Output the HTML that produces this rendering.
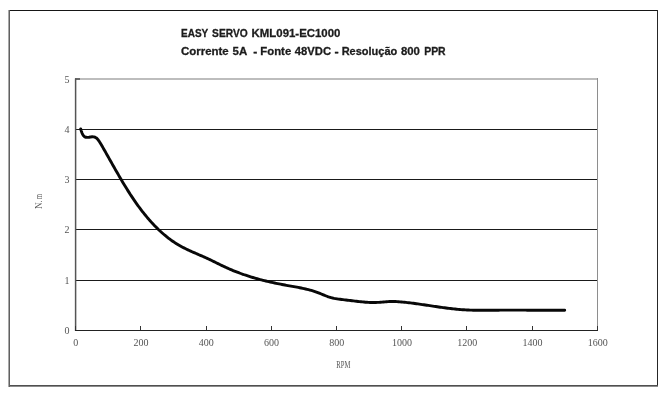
<!DOCTYPE html>
<html><head><meta charset="utf-8"><style>
html,body{margin:0;padding:0;background:#fff;width:667px;height:400px;overflow:hidden}
svg{display:block}
.t{font-family:"Liberation Sans",sans-serif;font-weight:bold;font-size:11.3px;fill:#1c1c1c;stroke:#1c1c1c;stroke-width:0.3px}
.l{font-family:"Liberation Serif",serif;font-size:10px;fill:#555}
</style></head><body>
<svg width="667" height="400" viewBox="0 0 667 400">
<rect x="8" y="10" width="650" height="1" fill="#161616"/>
<rect x="657" y="10" width="1" height="377" fill="#262626"/>
<rect x="8" y="385" width="650" height="1" fill="#505050"/>
<rect x="8" y="386" width="650" height="1" fill="#8c8c8c"/>
<rect x="8" y="10" width="1" height="377" fill="#a8a8a8"/>
<rect x="9" y="10" width="1" height="377" fill="#606060"/>
<text class="t" y="37.4"><tspan x="181.05" textLength="27.04" lengthAdjust="spacingAndGlyphs">EASY</tspan> <tspan x="212.08" textLength="35.59" lengthAdjust="spacingAndGlyphs">SERVO</tspan> <tspan x="251.64" textLength="88.74" lengthAdjust="spacingAndGlyphs">KML091-EC1000</tspan></text>
<text class="t" y="54.8"><tspan x="180.94" textLength="47.81" lengthAdjust="spacingAndGlyphs">Corrente</tspan> <tspan x="232.56" textLength="14.23" lengthAdjust="spacingAndGlyphs">5A</tspan> <tspan x="253.32" textLength="4.02" lengthAdjust="spacingAndGlyphs">-</tspan> <tspan x="260.35" textLength="30.86" lengthAdjust="spacingAndGlyphs">Fonte</tspan> <tspan x="294.85" textLength="36.23" lengthAdjust="spacingAndGlyphs">48VDC</tspan> <tspan x="334.41" textLength="4.15" lengthAdjust="spacingAndGlyphs">-</tspan> <tspan x="341.67" textLength="55.61" lengthAdjust="spacingAndGlyphs">Resolução</tspan> <tspan x="400.95" textLength="18.96" lengthAdjust="spacingAndGlyphs">800</tspan> <tspan x="424.21" textLength="21.46" lengthAdjust="spacingAndGlyphs">PPR</tspan></text>
<rect x="76" y="78" width="522" height="2" fill="#bdbdbd"/>
<rect x="597" y="78" width="1" height="252" fill="#8e8e8e"/>
<line x1="76" y1="129.5" x2="597" y2="129.5" stroke="#1a1a1a" stroke-width="1"/>
<line x1="76" y1="179.5" x2="597" y2="179.5" stroke="#1a1a1a" stroke-width="1"/>
<line x1="76" y1="229.5" x2="597" y2="229.5" stroke="#1a1a1a" stroke-width="1"/>
<line x1="76" y1="280.5" x2="597" y2="280.5" stroke="#1a1a1a" stroke-width="1"/>

<rect x="75" y="78" width="5" height="2" fill="#6a6a6a"/>
<line x1="75.6" y1="78.5" x2="75.6" y2="331" stroke="#555" stroke-width="1.5"/>
<line x1="75" y1="330.5" x2="598" y2="330.5" stroke="#222" stroke-width="1.2"/>
<line x1="75.5" y1="326" x2="75.5" y2="330" stroke="#333" stroke-width="1"/>
<line x1="140.5" y1="326" x2="140.5" y2="330" stroke="#333" stroke-width="1"/>
<line x1="206.5" y1="326" x2="206.5" y2="330" stroke="#333" stroke-width="1"/>
<line x1="271.5" y1="326" x2="271.5" y2="330" stroke="#333" stroke-width="1"/>
<line x1="336.5" y1="326" x2="336.5" y2="330" stroke="#333" stroke-width="1"/>
<line x1="401.5" y1="326" x2="401.5" y2="330" stroke="#333" stroke-width="1"/>
<line x1="466.5" y1="326" x2="466.5" y2="330" stroke="#333" stroke-width="1"/>
<line x1="532.5" y1="326" x2="532.5" y2="330" stroke="#333" stroke-width="1"/>
<line x1="597.5" y1="326" x2="597.5" y2="330" stroke="#333" stroke-width="1"/>

<g class="l">
<text x="69.5" y="333.9" text-anchor="end">0</text>
<text x="69.5" y="283.9" text-anchor="end">1</text>
<text x="69.5" y="232.9" text-anchor="end">2</text>
<text x="69.5" y="182.9" text-anchor="end">3</text>
<text x="69.5" y="132.9" text-anchor="end">4</text>
<text x="69.5" y="82.9" text-anchor="end">5</text>

<text x="75.7" y="345.8" text-anchor="middle">0</text>
<text x="140.9" y="345.8" text-anchor="middle">200</text>
<text x="206.2" y="345.8" text-anchor="middle">400</text>
<text x="271.4" y="345.8" text-anchor="middle">600</text>
<text x="336.7" y="345.8" text-anchor="middle">800</text>
<text x="401.9" y="345.8" text-anchor="middle">1000</text>
<text x="467.2" y="345.8" text-anchor="middle">1200</text>
<text x="532.5" y="345.8" text-anchor="middle">1400</text>
<text x="597.7" y="345.8" text-anchor="middle">1600</text>

<text x="336.3" y="368.0" textLength="14" lengthAdjust="spacingAndGlyphs">RPM</text>
<text transform="translate(41.8,209.2) rotate(-90)" y="0"><tspan x="0.1" textLength="6.6" lengthAdjust="spacingAndGlyphs">N</tspan><tspan x="6.7" textLength="2.0" lengthAdjust="spacingAndGlyphs">.</tspan><tspan x="10.2" textLength="4.9" lengthAdjust="spacingAndGlyphs">m</tspan></text>
</g>
<path d="M80.71,129.00 L81.09,130.35 L81.56,131.82 L82.13,133.32 L82.83,134.72 L83.69,135.93 L84.74,136.83 L85.99,137.32 L87.44,137.41 L89.01,137.24 L90.62,136.99 L92.22,136.81 L93.71,136.87 L95.07,137.24 L96.27,137.93 L97.32,138.90 L98.25,140.03 L99.12,141.22 L99.93,142.47 L100.70,143.75 L101.46,145.04 L102.21,146.34 L102.97,147.64 L103.71,148.95 L104.46,150.25 L105.21,151.56 L105.95,152.87 L106.69,154.18 L107.43,155.49 L108.17,156.80 L108.91,158.11 L109.65,159.42 L110.39,160.73 L111.13,162.05 L111.87,163.36 L112.62,164.67 L113.36,165.98 L114.10,167.29 L114.84,168.60 L115.59,169.91 L116.34,171.22 L117.09,172.53 L117.84,173.84 L118.59,175.14 L119.35,176.44 L120.10,177.75 L120.87,179.04 L121.63,180.34 L122.40,181.64 L123.17,182.93 L123.95,184.22 L124.73,185.50 L125.51,186.78 L126.30,188.06 L127.09,189.34 L127.89,190.61 L128.69,191.88 L129.50,193.15 L130.31,194.41 L131.13,195.66 L131.96,196.91 L132.79,198.16 L133.63,199.40 L134.47,200.64 L135.33,201.87 L136.18,203.10 L137.05,204.32 L137.92,205.53 L138.81,206.74 L139.70,207.95 L140.59,209.14 L141.50,210.33 L142.41,211.52 L143.34,212.70 L144.27,213.87 L145.21,215.03 L146.16,216.19 L147.12,217.33 L148.10,218.48 L149.08,219.61 L150.07,220.73 L151.07,221.85 L152.08,222.96 L153.11,224.06 L154.14,225.15 L155.19,226.23 L156.24,227.31 L157.31,228.37 L158.40,229.42 L159.49,230.46 L160.59,231.49 L161.71,232.51 L162.84,233.51 L163.98,234.50 L165.13,235.47 L166.29,236.43 L167.47,237.37 L168.66,238.29 L169.86,239.20 L171.07,240.09 L172.30,240.96 L173.54,241.81 L174.79,242.65 L176.05,243.46 L177.33,244.25 L178.62,245.01 L179.92,245.76 L181.24,246.49 L182.56,247.19 L183.89,247.89 L185.23,248.56 L186.58,249.22 L187.94,249.87 L189.30,250.50 L190.66,251.13 L192.03,251.74 L193.41,252.35 L194.78,252.95 L196.16,253.54 L197.54,254.13 L198.91,254.72 L200.29,255.32 L201.67,255.91 L203.04,256.50 L204.42,257.11 L205.79,257.72 L207.16,258.34 L208.52,258.97 L209.88,259.61 L211.23,260.27 L212.59,260.93 L213.94,261.60 L215.29,262.27 L216.64,262.94 L217.99,263.61 L219.34,264.29 L220.69,264.95 L222.05,265.62 L223.41,266.27 L224.77,266.91 L226.14,267.55 L227.51,268.17 L228.88,268.78 L230.26,269.38 L231.64,269.96 L233.03,270.54 L234.42,271.10 L235.82,271.65 L237.22,272.20 L238.62,272.73 L240.03,273.25 L241.44,273.76 L242.85,274.26 L244.27,274.75 L245.69,275.23 L247.11,275.70 L248.54,276.16 L249.97,276.62 L251.40,277.06 L252.84,277.49 L254.28,277.92 L255.72,278.33 L257.16,278.74 L258.61,279.14 L260.06,279.53 L261.51,279.91 L262.96,280.28 L264.42,280.65 L265.88,281.01 L267.34,281.36 L268.80,281.70 L270.26,282.04 L271.73,282.37 L273.20,282.69 L274.67,283.01 L276.14,283.32 L277.61,283.62 L279.08,283.91 L280.55,284.20 L282.03,284.49 L283.51,284.77 L284.98,285.04 L286.46,285.31 L287.94,285.57 L289.42,285.83 L290.90,286.09 L292.38,286.35 L293.85,286.61 L295.33,286.88 L296.81,287.15 L298.28,287.42 L299.75,287.71 L301.22,288.01 L302.68,288.31 L304.14,288.63 L305.60,288.97 L307.06,289.32 L308.51,289.69 L309.95,290.07 L311.39,290.48 L312.83,290.91 L314.26,291.36 L315.68,291.84 L317.10,292.35 L318.51,292.88 L319.91,293.44 L321.32,294.01 L322.72,294.59 L324.12,295.17 L325.52,295.73 L326.93,296.27 L328.35,296.78 L329.78,297.24 L331.22,297.65 L332.67,298.01 L334.14,298.33 L335.61,298.61 L337.09,298.86 L338.58,299.08 L340.07,299.28 L341.56,299.47 L343.06,299.65 L344.56,299.83 L346.05,300.00 L347.54,300.19 L349.04,300.37 L350.53,300.56 L352.02,300.75 L353.51,300.93 L355.00,301.11 L356.49,301.29 L357.98,301.46 L359.47,301.63 L360.96,301.78 L362.46,301.93 L363.96,302.06 L365.45,302.18 L366.95,302.29 L368.46,302.38 L369.96,302.44 L371.46,302.49 L372.96,302.51 L374.47,302.51 L375.97,302.48 L377.47,302.42 L378.97,302.34 L380.47,302.23 L381.97,302.11 L383.47,301.98 L384.97,301.85 L386.47,301.74 L387.97,301.63 L389.47,301.56 L390.97,301.51 L392.47,301.50 L393.97,301.52 L395.47,301.56 L396.96,301.63 L398.46,301.72 L399.96,301.83 L401.45,301.95 L402.95,302.09 L404.45,302.24 L405.94,302.40 L407.43,302.57 L408.93,302.75 L410.42,302.93 L411.91,303.12 L413.40,303.31 L414.89,303.51 L416.38,303.71 L417.87,303.92 L419.36,304.13 L420.85,304.34 L422.34,304.56 L423.83,304.77 L425.32,304.99 L426.81,305.22 L428.29,305.44 L429.78,305.66 L431.27,305.88 L432.76,306.11 L434.24,306.33 L435.73,306.55 L437.22,306.76 L438.71,306.98 L440.20,307.19 L441.68,307.40 L443.17,307.61 L444.66,307.81 L446.15,308.00 L447.64,308.19 L449.13,308.38 L450.62,308.56 L452.11,308.73 L453.60,308.89 L455.09,309.05 L456.59,309.20 L458.08,309.34 L459.57,309.47 L461.07,309.59 L462.56,309.70 L464.06,309.80 L465.55,309.89 L467.05,309.97 L468.55,310.04 L470.05,310.10 L471.55,310.15 L473.05,310.19 L474.55,310.22 L476.05,310.25 L477.55,310.27 L479.05,310.28 L480.56,310.29 L482.06,310.29 L483.56,310.29 L485.07,310.28 L486.57,310.27 L488.07,310.26 L489.58,310.25 L491.08,310.24 L492.58,310.23 L494.09,310.21 L495.59,310.20 L497.09,310.19 L498.60,310.18 L500.10,310.17 L501.60,310.16 L503.11,310.16 L504.61,310.15 L506.11,310.15 L507.61,310.15 L509.12,310.14 L510.62,310.14 L512.12,310.14 L513.62,310.14 L515.12,310.14 L516.63,310.15 L518.13,310.15 L519.63,310.15 L521.13,310.16 L522.63,310.16 L524.13,310.17 L525.64,310.17 L527.14,310.18 L528.64,310.18 L530.14,310.19 L531.64,310.20 L533.14,310.21 L534.65,310.21 L536.15,310.22 L537.65,310.23 L539.15,310.23 L540.65,310.24 L542.16,310.25 L543.66,310.25 L545.16,310.26 L546.66,310.27 L548.16,310.27 L549.67,310.28 L551.17,310.28 L552.67,310.29 L554.18,310.29 L555.68,310.30 L557.18,310.30 L558.68,310.30 L560.19,310.30 L561.69,310.30 L563.20,310.30 L564.70,310.30" fill="none" stroke="#080808" stroke-width="2.9" stroke-linecap="round" stroke-linejoin="round"/>
</svg>
</body></html>
